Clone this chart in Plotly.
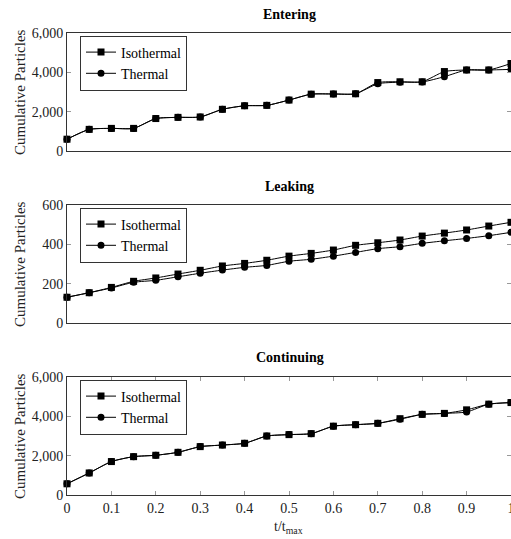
import plotly.graph_objects as go

t = [0, 0.05, 0.1, 0.15, 0.2, 0.25, 0.3, 0.35, 0.4, 0.45, 0.5,
     0.55, 0.6, 0.65, 0.7, 0.75, 0.8, 0.85, 0.9, 0.95, 1.0]

entering_iso = [600, 1100, 1150, 1150, 1650, 1710, 1730, 2120, 2300, 2320, 2590,
                2890, 2900, 2910, 3480, 3520, 3520, 4040, 4120, 4120, 4450]
entering_thermal = [600, 1100, 1150, 1150, 1650, 1710, 1730, 2120, 2300, 2320, 2590,
                    2890, 2900, 2910, 3420, 3500, 3510, 3780, 4120, 4120, 4150]

leaking_iso = [131, 154, 181, 212, 229, 249, 268, 290, 303, 319, 340,
               354, 371, 395, 408, 422, 442, 457, 473, 493, 512]
leaking_thermal = [131, 154, 178, 207, 217, 235, 253, 269, 283, 293, 314,
                   324, 340, 359, 378, 388, 405, 418, 430, 444, 461]

continuing_iso = [570, 1120, 1700, 1950, 2020, 2170, 2460, 2540, 2630, 3000, 3070,
                  3120, 3500, 3575, 3645, 3880, 4100, 4150, 4330, 4620, 4700]
continuing_thermal = [570, 1120, 1700, 1950, 2020, 2170, 2460, 2540, 2630, 3000, 3070,
                      3120, 3500, 3575, 3645, 3850, 4100, 4150, 4220, 4620, 4700]

panel_titles = ["Entering", "Leaking", "Continuing"]
series_names = ["Isothermal", "Thermal"]
x_ticks = [0, 0.1, 0.2, 0.3, 0.4, 0.5, 0.6, 0.7, 0.8, 0.9, 1]
x_tick_labels = ["0", "0.1", "0.2", "0.3", "0.4", "0.5", "0.6", "0.7", "0.8", "0.9", "1"]
y_ticks_big = [0, 2000, 4000, 6000]
y_ticks_small = [0, 200, 400, 600]

FONT = "Liberation Serif"
W, H = 511, 539
L = 67

panels_px = [(33, 151), (205, 323), (377, 495)]
title_px = [14, 186, 357]

fig = go.Figure()

data = [(entering_iso, entering_thermal), (leaking_iso, leaking_thermal),
        (continuing_iso, continuing_thermal)]

for i, (iso, th) in enumerate(data):
    k = "" if i == 0 else str(i + 1)
    leg = "legend" + k
    for name, vals, sym in [(series_names[0], iso, "square"), (series_names[1], th, "circle")]:
        fig.add_trace(go.Scatter(
            x=t, y=vals, name=name, mode="lines+markers",
            line=dict(color="black", width=1, shape="spline", smoothing=0.6),
            marker=dict(symbol=sym, size=7, color="black"),
            xaxis="x" + k, yaxis="y" + k, legend=leg, cliponaxis=False,
        ))

layout = dict(
    width=W, height=H,
    margin=dict(l=L, r=0, t=0, b=0, autoexpand=False),
    plot_bgcolor="white", paper_bgcolor="white",
    font=dict(family=FONT, size=14, color="black"),
    showlegend=True,
)

annotations = []
for i, ((top, bot), tp) in enumerate(zip(panels_px, title_px)):
    k = "" if i == 0 else str(i + 1)
    dom = [1 - bot / H, 1 - top / H]
    is_last = i == 2
    layout["xaxis" + k] = dict(
        domain=[0, 1], range=[0, 1], anchor="y" + k, automargin=False,
        showline=True, linecolor="#333", linewidth=1,
        mirror="ticks" if is_last else True,
        ticks="inside" if is_last else "", ticklen=4, tickcolor="#999",
        tickvals=x_ticks, ticktext=x_tick_labels, ticklabeloverflow="allow",
        showticklabels=is_last, showgrid=False, zeroline=False,
        tickfont=dict(family=FONT, size=14, color="#222"),
    )
    layout["yaxis" + k] = dict(
        domain=dom, anchor="x" + k, automargin=False,
        range=[0, 600] if i == 1 else [0, 6000],
        tickvals=y_ticks_small if i == 1 else y_ticks_big,
        tickformat=",",
        showline=True, linecolor="#333", linewidth=1, mirror="ticks",
        ticks="inside", ticklen=4, tickcolor="#999",
        showgrid=False, zeroline=False, tickfont=dict(family=FONT, size=14, color="#222"),
    )
    layout["legend" + k] = dict(
        x=(80 - L) / (W - L), y=1 - (top + 2.5) / H,
        xanchor="left", yanchor="top", xref="paper", yref="paper",
        bgcolor="white", bordercolor="#333", borderwidth=1,
        font=dict(family=FONT, size=14), tracegroupgap=0,
        itemwidth=30,
    )
    annotations.append(dict(
        text="<b>" + panel_titles[i] + "</b>", x=(289.5 - L) / (W - L), y=1 - tp / H,
        xref="paper", yref="paper", showarrow=False, xanchor="center", yanchor="middle",
        font=dict(family=FONT, size=14),
    ))
    annotations.append(dict(
        text="Cumulative Particles", x=(20 - L) / (W - L), y=1 - (top + bot) / 2 / H,
        xref="paper", yref="paper", showarrow=False, textangle=-90,
        xanchor="center", yanchor="middle", font=dict(family=FONT, size=15, color="#222"),
    ))

annotations.append(dict(
    text="t/t<sub>max</sub>", x=(288 - L) / (W - L), y=1 - 527 / H,
    xref="paper", yref="paper", showarrow=False, xanchor="center", yanchor="middle",
    font=dict(family=FONT, size=14, color="#222"),
))
layout["annotations"] = annotations

fig.update_layout(**layout)
fig.write_html(
    "out.html",
    config={"displayModeBar": False},
    post_script="document.body.style.margin='0';document.body.style.overflow='hidden';",
)
